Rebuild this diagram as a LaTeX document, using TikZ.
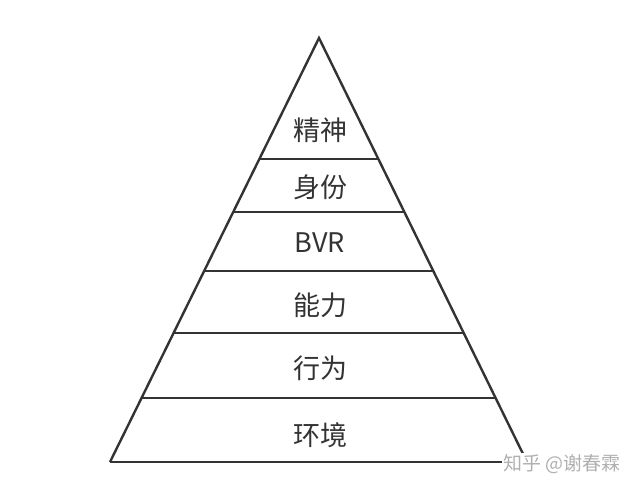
\documentclass[tikz,border=0pt]{standalone}
\usepackage{fontspec}
\newfontfamily\cjk{Noto Sans CJK SC}
\usetikzlibrary{calc}
\definecolor{ink}{HTML}{333333}
\definecolor{wm}{HTML}{B0B0B0}
\begin{document}
\begin{tikzpicture}[x=1pt,y=-1pt,
  side/.style={draw=ink,line width=2.4pt,line join=miter},
  level/.style={draw=ink,line width=1.5pt},
  lbl/.style={text=ink,font=\cjk\fontsize{27}{27}\selectfont,inner sep=0pt,anchor=center},
  wmark/.style={text=wm,font=\cjk\fontsize{19}{19}\selectfont,inner sep=1pt,fill=white,anchor=west}]
\useasboundingbox (0,0) rectangle (640,492);
\coordinate (apex) at (319,38);
\coordinate (bl) at (110,462);
\coordinate (br) at (527,462);
\draw[side] (bl) -- (apex) -- (br);
\draw[level] (bl) -- (br);
\foreach \t [count=\i] in {0.2854,0.4104,0.5495,0.6958,0.8491}{
  \coordinate (l\i) at ($(apex)!\t!(bl)$);
  \coordinate (r\i) at ($(apex)!\t!(br)$);
  \draw[level] (l\i) -- (r\i);
}
\node[lbl] (n1) at (320,130) {精神};
\node[lbl] (n2) at (320,187) {身份};
\node[lbl] (n3) at (320,243) {BVR};
\node[lbl] (n4) at (320,305) {能力};
\node[lbl] (n5) at (320,368) {行为};
\node[lbl] (n6) at (320,435) {环境};
\node[wmark] (wm) at (502,464) {知乎 @谢春霖};
\end{tikzpicture}
\end{document}
